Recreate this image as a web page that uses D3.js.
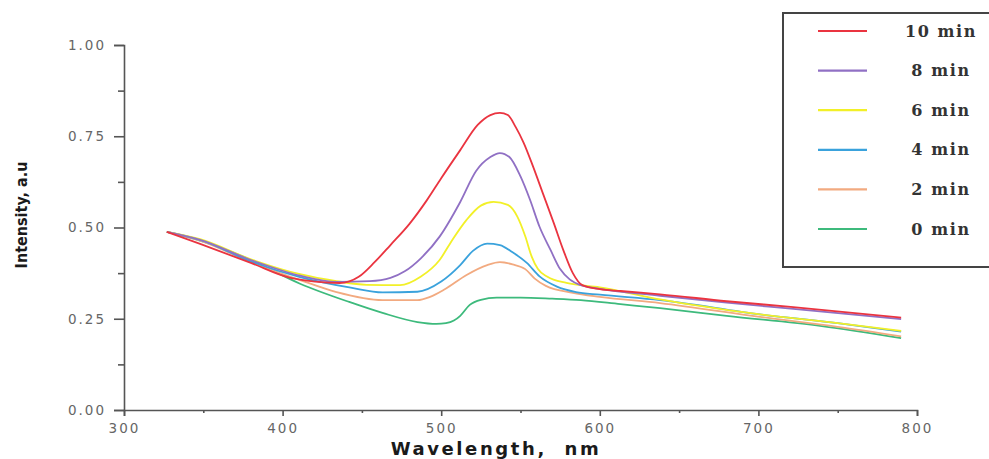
<!DOCTYPE html>
<html>
<head>
<meta charset="utf-8">
<script src="https://cdn.jsdelivr.net/npm/d3@7"></script>
<style>
  body { margin: 0; background: #fff; }
  svg { display: block; }
</style>
</head>
<body>
<div id="graph_draw"></div>
<script>
// spectra: [wavelength nm, intensity a.u]
var min0 = [[327,0.488],[348,0.464],[380,0.411],[411,0.346],[442,0.296],[463,0.266],[485,0.241],[497,0.236],[503,0.238],[508,0.245],[512,0.258],[518,0.288],[525,0.302],[535,0.308],[550,0.308],[570,0.305],[588,0.301],[613,0.290],[638,0.279],[680,0.258],[740,0.230],[790,0.197]];
var min2 = [[327,0.488],[348,0.464],[380,0.405],[411,0.356],[434,0.323],[463,0.301],[485,0.301],[493,0.310],[502,0.330],[516,0.370],[529,0.397],[537,0.405],[545,0.399],[553,0.386],[559,0.360],[566,0.340],[583,0.321],[600,0.310],[638,0.293],[701,0.255],[750,0.228],[790,0.202]];
var min4 = [[327,0.488],[348,0.466],[380,0.407],[411,0.364],[443,0.335],[463,0.322],[485,0.324],[500,0.352],[512,0.397],[520,0.436],[529,0.456],[537,0.452],[545,0.432],[554,0.403],[562,0.366],[573,0.338],[585,0.323],[600,0.316],[638,0.301],[701,0.262],[750,0.238],[790,0.215]];
var min6 = [[327,0.488],[348,0.468],[380,0.413],[411,0.372],[434,0.353],[453,0.343],[474,0.342],[487,0.365],[499,0.411],[507,0.466],[516,0.521],[525,0.560],[533,0.570],[542,0.562],[548,0.530],[553,0.476],[557,0.421],[561,0.386],[567,0.365],[579,0.348],[600,0.336],[638,0.303],[701,0.262],[750,0.238],[790,0.217]];
var min8 = [[327,0.488],[348,0.466],[380,0.411],[411,0.368],[434,0.351],[455,0.353],[468,0.362],[477,0.380],[487,0.415],[499,0.475],[512,0.570],[522,0.655],[531,0.693],[537,0.704],[543,0.693],[550,0.640],[556,0.576],[562,0.502],[569,0.438],[575,0.386],[581,0.358],[588,0.342],[600,0.332],[638,0.313],[680,0.294],[722,0.277],[790,0.249]];
var min10 = [[327,0.488],[348,0.455],[380,0.403],[405,0.362],[436,0.348],[448,0.365],[458,0.405],[468,0.452],[480,0.510],[491,0.575],[500,0.635],[512,0.712],[523,0.781],[531,0.808],[537,0.814],[542,0.808],[547,0.775],[552,0.732],[558,0.666],[564,0.595],[571,0.512],[577,0.438],[583,0.375],[589,0.342],[600,0.331],[613,0.326],[638,0.317],[680,0.298],[722,0.282],[790,0.253]];

var seriesData = [min0, min2, min4, min6, min8, min10];
var seriesNames = ["0 min", "2 min", "4 min", "6 min", "8 min", "10 min"];
var seriesColors = ["#3dba7c", "#f2aa80", "#3aa2dc", "#f2f028", "#9070c4", "#ea3440"];

var xTicks = [300, 400, 500, 600, 700, 800];
var xMinor = [350, 450, 550, 650, 750];
var yTicks = [0, 0.25, 0.5, 0.75, 1.0];
var yMinor = [0.125, 0.375, 0.625, 0.875];

var W = 989, H = 459;
var margin = {top: 45, right: 72, bottom: 49, left: 124};
var width = W - margin.left - margin.right,
    height = H - margin.top - margin.bottom;

var svg = d3.select("#graph_draw").append("svg")
    .attr("width", W)
    .attr("height", H);

var g = svg.append("g")
    .attr("transform", "translate(" + margin.left + "," + margin.top + ")");

var x = d3.scaleLinear().domain([300, 800]).range([0, width]);
var y = d3.scaleLinear().domain([0, 1]).range([height, 0]);

var axisColor = "#555";

// x axis
g.append("g")
    .attr("transform", "translate(0," + height + ")")
    .call(d3.axisBottom(x).tickValues(xTicks).tickSize(6).tickPadding(7));
g.append("g")
    .attr("transform", "translate(0," + height + ")")
    .call(d3.axisBottom(x).tickValues(xMinor).tickSize(3).tickFormat(""))
    .select(".domain").remove();

// y axis
g.append("g")
    .call(d3.axisLeft(y).tickValues(yTicks).tickSize(10).tickPadding(8).tickFormat(d3.format(".2f")));
g.append("g")
    .call(d3.axisLeft(y).tickValues(yMinor).tickSize(6).tickFormat(""))
    .select(".domain").remove();

g.selectAll(".domain, .tick line")
    .attr("stroke", axisColor)
    .attr("stroke-width", 1.6);
g.selectAll(".tick text")
    .attr("fill", "#666")
    .style("font-family", "'DejaVu Sans', sans-serif")
    .style("font-size", "13.5px")
    .style("letter-spacing", "2px");

// axis titles
svg.append("text")
    .attr("x", 496)
    .attr("y", 455)
    .attr("text-anchor", "middle")
    .attr("fill", "#1a1a1a")
    .style("font-family", "'DejaVu Sans', sans-serif")
    .style("font-weight", "bold")
    .style("font-size", "18px")
    .style("letter-spacing", "2.6px")
    .style("white-space", "pre")
    .text("Wavelength,  nm");

svg.append("text")
    .attr("transform", "translate(27,215) rotate(-90)")
    .attr("text-anchor", "middle")
    .attr("fill", "#1a1a1a")
    .style("font-family", "'Liberation Sans Narrow', 'DejaVu Sans Condensed', sans-serif")
    .style("font-weight", "bold")
    .style("font-size", "16px")
    .text("Intensity, a.u");

// curves
var line = d3.line()
    .x(function(d){ return x(d[0]); })
    .y(function(d){ return y(d[1]); })
    .curve(d3.curveMonotoneX);

g.selectAll(".spec")
    .data(seriesData)
    .enter().append("path")
    .attr("class", "spec")
    .attr("d", line)
    .attr("fill", "none")
    .attr("stroke", function(d, i){ return seriesColors[i]; })
    .attr("stroke-width", 1.8)
    .attr("stroke-linejoin", "round");

// legend box (runs off the right edge like the original)
var leg = svg.append("g");
leg.append("rect")
    .attr("x", 783).attr("y", 13)
    .attr("width", 240).attr("height", 254)
    .attr("fill", "#fff")
    .attr("stroke", "#444")
    .attr("stroke-width", 2);

var legOrder = d3.range(seriesNames.length).reverse();
var ly = d3.scalePoint().domain(legOrder).range([31, 229]);

var items = leg.selectAll(".item")
    .data(legOrder)
    .enter().append("g")
    .attr("class", "item")
    .attr("transform", function(i){ return "translate(0," + ly(i) + ")"; });

items.append("line")
    .attr("x1", 818).attr("x2", 867)
    .attr("stroke", function(i){ return seriesColors[i]; })
    .attr("stroke-width", 2.2);

items.append("text")
    .attr("x", 941)
    .attr("dy", "0.35em")
    .attr("text-anchor", "middle")
    .attr("fill", "#333")
    .style("font-family", "'DejaVu Serif', serif")
    .style("font-weight", "bold")
    .style("font-size", "16px")
    .style("letter-spacing", "1.6px")
    .text(function(i){ return seriesNames[i]; });
</script>
</body>
</html>
